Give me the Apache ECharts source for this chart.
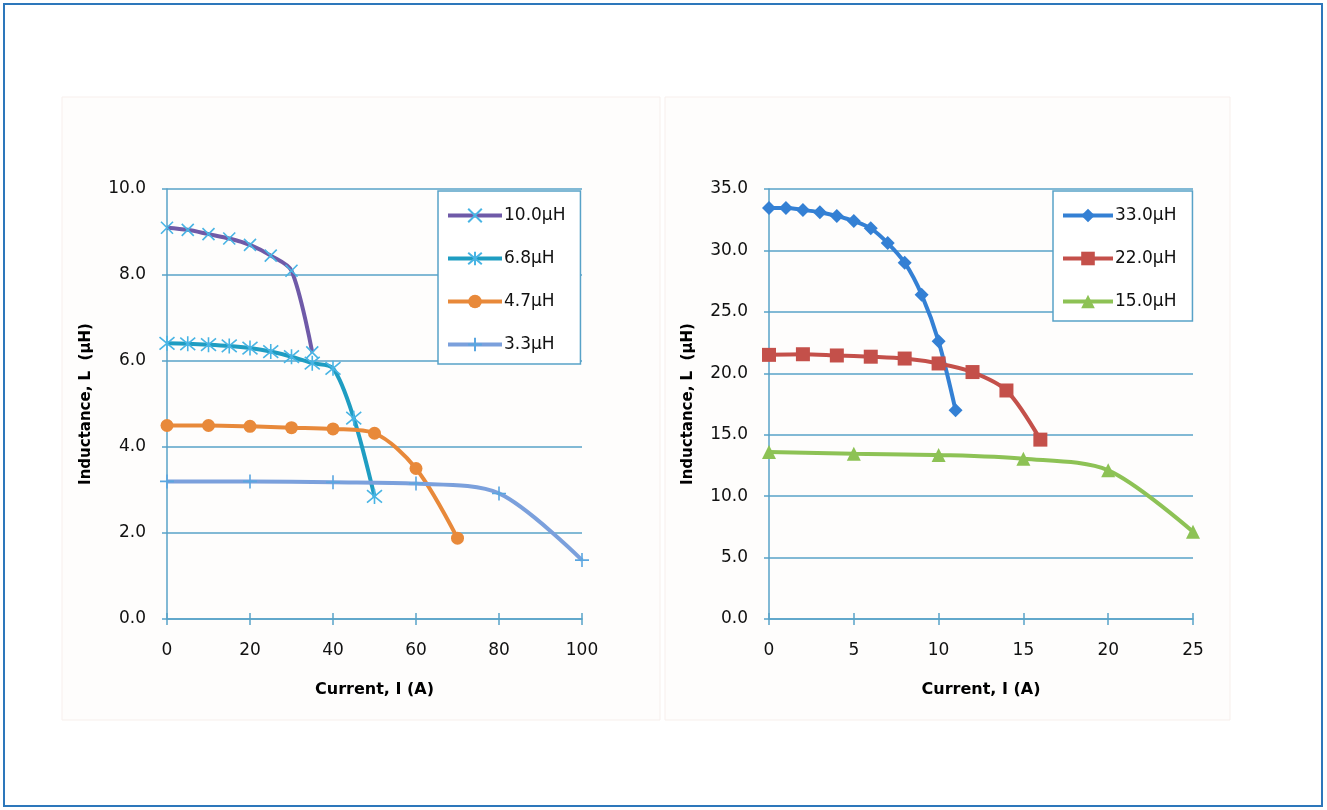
<!DOCTYPE html>
<html>
<head>
<meta charset="utf-8">
<script src="https://cdn.jsdelivr.net/npm/echarts@6/dist/echarts.min.js"></script>
<style>
html,body{margin:0;padding:0;background:#fff;}
#c{width:1327px;height:810px;}
</style>
</head>
<body>
<div id="c"></div>
<script>
// ---- Left chart data (Current A, Inductance µH) ----
const x10 = [0, 5, 10, 15, 20, 25, 30, 35];
const L10 = [9.1, 9.05, 8.95, 8.85, 8.7, 8.45, 8.1, 6.2];
const x68 = [0, 5, 10, 15, 20, 25, 30, 35, 40, 45, 50];
const L68 = [6.41, 6.40, 6.38, 6.35, 6.30, 6.22, 6.10, 5.95, 5.83, 4.67, 2.85];
const x47 = [0, 10, 20, 30, 40, 50, 60, 70];
const L47 = [4.5, 4.5, 4.48, 4.45, 4.42, 4.32, 3.5, 1.88];
const x33 = [0, 20, 40, 60, 80, 100];
const L33 = [3.2, 3.2, 3.18, 3.15, 2.92, 1.37];
// ---- Right chart data ----
const xR33 = [0, 1, 2, 3, 4, 5, 6, 7, 8, 9, 10, 11];
const LR33 = [33.45, 33.45, 33.3, 33.1, 32.8, 32.4, 31.8, 30.6, 29.0, 26.4, 22.6, 17.0];
const xR22 = [0, 2, 4, 6, 8, 10, 12, 14, 16];
const LR22 = [21.5, 21.55, 21.45, 21.35, 21.2, 20.8, 20.1, 18.6, 14.6];
const xR15 = [0, 5, 10, 15, 20, 25];
const LR15 = [13.6, 13.45, 13.35, 13.05, 12.1, 7.1];
const namesLeft = ['10.0µH', '6.8µH', '4.7µH', '3.3µH'];
const namesRight = ['33.0µH', '22.0µH', '15.0µH'];
const xTitle = 'Current, I (A)';
const yTitle = 'Inductance, L  (µH)';

function pairs(xs, ys) { return xs.map((x, i) => [x, ys[i]]); }

const FONT = 'DejaVu Sans';
const gridColor = '#58a2c8';
const X_SYM = 'path://M0,0L10,10M10,0L0,10';
const AST_SYM = 'path://M0,1L10,11M10,1L0,11M5,0L5,12';
const PLUS_SYM = 'path://M5,0L5,12M1,6L9,6';

function xAxisCfg(gi, max, interval) {
  return {
    type: 'value', gridIndex: gi, min: 0, max: max, interval: interval,
    name: xTitle, nameLocation: 'middle', nameGap: 63,
    nameTextStyle: {fontFamily: FONT, fontSize: 16, fontWeight: 'bold', color: '#000'},
    axisLine: {show: true, onZero: false, lineStyle: {color: gridColor, width: 1.5}},
    axisTick: {show: true, length: 6, lineStyle: {color: gridColor, width: 1.5}},
    axisLabel: {fontFamily: FONT, fontSize: 17, color: '#111', margin: 23},
    splitLine: {show: false}
  };
}
function xOverlay(gi, max, interval) {
  return {
    type: 'value', gridIndex: gi, min: 0, max: max, interval: interval, position: 'bottom',
    axisLine: {show: false}, axisLabel: {show: false}, splitLine: {show: false},
    axisTick: {show: true, inside: true, length: 6, lineStyle: {color: gridColor, width: 1.5}}
  };
}
function yAxisCfg(gi, max, interval) {
  return {
    type: 'value', gridIndex: gi, min: 0, max: max, interval: interval,
    name: yTitle, nameLocation: 'middle', nameGap: 73,
    nameTextStyle: {fontFamily: FONT, fontSize: 15, fontWeight: 'bold', color: '#000'},
    axisLine: {show: true, lineStyle: {color: gridColor, width: 1.5}},
    axisTick: {show: true, length: 5, lineStyle: {color: gridColor, width: 1.5}},
    axisLabel: {fontFamily: FONT, fontSize: 17, color: '#111', margin: 21,
      formatter: v => v.toFixed(1)},
    splitLine: {show: true, lineStyle: {color: gridColor, width: 1.5}}
  };
}

function lineSeries(name, xi, yi, data, lineColor, symbol, size, symColor, stroke) {
  return {
    type: 'line', name: name, xAxisIndex: xi, yAxisIndex: yi, data: data,
    smooth: 0.3, symbol: symbol, symbolSize: size, showSymbol: true,
    lineStyle: {color: lineColor, width: 4},
    itemStyle: stroke ? {color: symColor, borderColor: symColor, borderWidth: 1.6}
                      : {color: symColor, borderWidth: 0},
    emphasis: {disabled: true}, z: 3
  };
}

function legendCfg(names, left, itemWidth, padRight) {
  return {
    data: names, orient: 'vertical', left: left, top: 191,
    padding: [16, padRight, 11, 8], itemWidth: itemWidth, itemHeight: 17, itemGap: 26,
    backgroundColor: '#ffffff', borderColor: gridColor, borderWidth: 1.5, borderRadius: 0,
    lineStyle: {width: 4},
    textStyle: {fontFamily: FONT, fontSize: 17, color: '#111', padding: [0, 0, 0, -3]},
    selectedMode: false
  };
}

const chart = echarts.init(document.getElementById('c'), null, {renderer: 'canvas'});
chart.setOption({
  backgroundColor: '#ffffff',
  animation: false,
  graphic: [
    {type: 'rect', shape: {x: 4, y: 4, width: 1318, height: 802},
     style: {fill: 'none', stroke: '#2d77bb', lineWidth: 2}, z: -10},
    {type: 'rect', shape: {x: 62, y: 97, width: 598, height: 623},
     style: {fill: '#fefdfc', stroke: '#f7efec', lineWidth: 1}, z: -9},
    {type: 'rect', shape: {x: 665, y: 97, width: 565, height: 623},
     style: {fill: '#fefdfc', stroke: '#f7efec', lineWidth: 1}, z: -9}
  ],
  grid: [
    {left: 167, top: 189, width: 415, height: 430},
    {left: 769, top: 189, width: 424, height: 430}
  ],
  xAxis: [
    xAxisCfg(0, 100, 20),
    xAxisCfg(1, 25, 5),
    xOverlay(0, 100, 20),
    xOverlay(1, 25, 5)
  ],
  yAxis: [
    yAxisCfg(0, 10, 2),
    yAxisCfg(1, 35, 5)
  ],
  legend: [
    legendCfg(namesLeft, 438, 54, 15),
    legendCfg(namesRight, 1053, 50, 16)
  ],
  series: [
    lineSeries(namesLeft[0], 0, 0, pairs(x10, L10), '#6f5aa8', X_SYM, 12, '#48b4e4', true),
    lineSeries(namesLeft[1], 0, 0, pairs(x68, L68), '#1f9dc2', AST_SYM, 15, '#48b4e4', true),
    lineSeries(namesLeft[2], 0, 0, pairs(x47, L47), '#e8893a', 'circle', 13, '#e8893a', false),
    lineSeries(namesLeft[3], 0, 0, pairs(x33, L33), '#7ba0dc', PLUS_SYM, 14, '#5aa6e0', true),
    lineSeries(namesRight[0], 1, 1, pairs(xR33, LR33), '#3480d4', 'diamond', 14, '#3480d4', false),
    lineSeries(namesRight[1], 1, 1, pairs(xR22, LR22), '#c4504a', 'rect', 14, '#c4504a', false),
    lineSeries(namesRight[2], 1, 1, pairs(xR15, LR15), '#8dc255', 'triangle', 14, '#8dc255', false)
  ]
});
</script>
</body>
</html>
